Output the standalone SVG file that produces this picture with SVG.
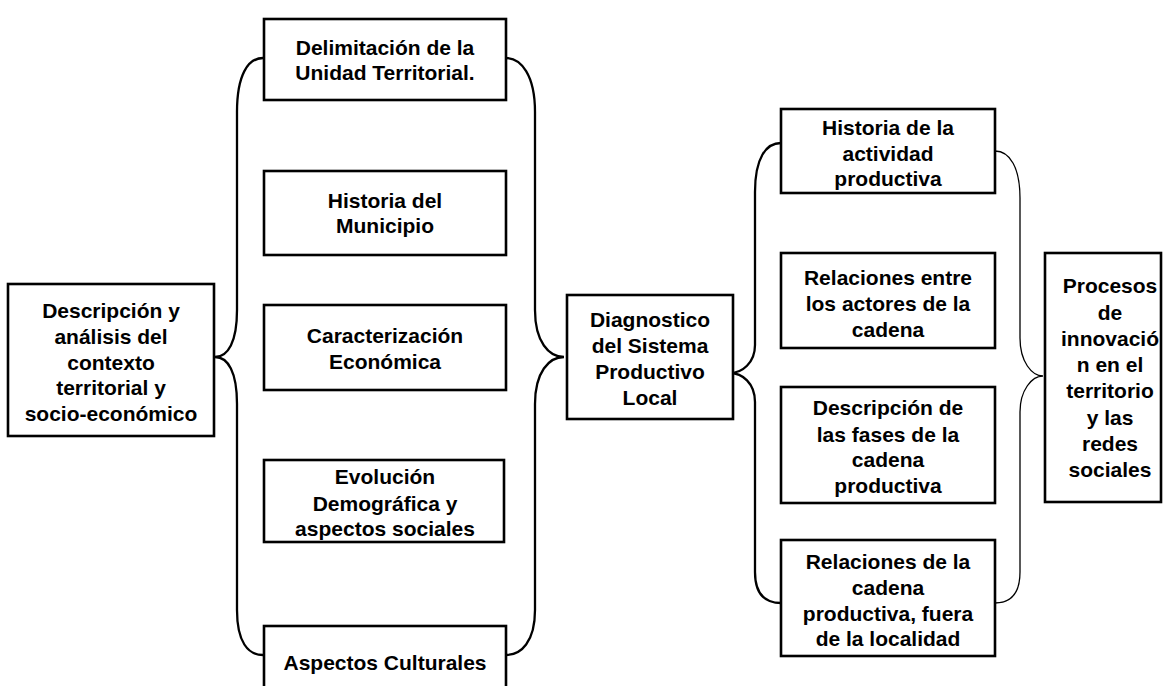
<svg xmlns="http://www.w3.org/2000/svg" width="1163" height="686" viewBox="0 0 1163 686">
<style>
.box{fill:#fff;stroke:#000;stroke-width:2.6}
.t{font-family:"Liberation Sans",Arial,sans-serif;font-weight:bold;font-size:21px;fill:#000;text-anchor:middle}
.br{fill:none;stroke:#000;stroke-width:2.3}
.thin{fill:none;stroke:#000;stroke-width:1.3}
</style>
<rect width="1163" height="686" fill="#fff"/>
<g id="connectors">
<path class="br" d="M263,58 C248,58 237,75 237,112 L237,310 C237,342 228,357 215,357 C228,357 237,372 237,404 L237,610 C237,642 248,655 263,655"/>
<path class="br" d="M506,58 C521,58 535,75 535,112 L535,310 C535,342 549,357 564,357 C549,357 535,372 535,404 L535,610 C535,642 521,655 506,655"/>
<path class="br" d="M781,143 C766,143 755,158 755,192 L755,345 C755,363 742,373 730,373 C742,373 755,383 755,402 L755,572 C755,595 766,603 781,603"/>
<path class="thin" d="M995,151 C1010,151 1020,168 1020,198 L1020,338 C1020,362 1032,376 1043,376 C1032,376 1020,390 1020,412 L1020,572 C1020,595 1010,603 995,603"/>
</g>
<g id="n_descripcion">
<rect class="box" x="8" y="284" width="206" height="152"/>
<text class="t" x="111" y="318">Descripción y</text>
<text class="t" x="111" y="344">análisis del</text>
<text class="t" x="111" y="370">contexto</text>
<text class="t" x="111" y="395">territorial  y</text>
<text class="t" x="111" y="421">socio-económico</text>
</g>
<g id="n_delimitacion">
<rect class="box" x="264" y="19" width="242" height="81"/>
<text class="t" x="385" y="55">Delimitación de la</text>
<text class="t" x="385" y="80">Unidad Territorial.</text>
</g>
<g id="n_historia_mun">
<rect class="box" x="264" y="171" width="242" height="84"/>
<text class="t" x="385" y="208">Historia del</text>
<text class="t" x="385" y="233">Municipio</text>
</g>
<g id="n_caracterizacion">
<rect class="box" x="264" y="305" width="242" height="85"/>
<text class="t" x="385" y="343">Caracterización</text>
<text class="t" x="385" y="369">Económica</text>
</g>
<g id="n_evolucion">
<rect class="box" x="264" y="460" width="240" height="82"/>
<text class="t" x="385" y="484">Evolución</text>
<text class="t" x="385" y="511">Demográfica y</text>
<text class="t" x="385" y="536">aspectos sociales</text>
</g>
<g id="n_aspectos">
<rect class="box" x="264" y="626" width="242" height="70"/>
<text class="t" x="385" y="670">Aspectos Culturales</text>
</g>
<g id="n_diagnostico">
<rect class="box" x="567" y="295" width="166" height="124"/>
<text class="t" x="650" y="327">Diagnostico</text>
<text class="t" x="650" y="353">del Sistema</text>
<text class="t" x="650" y="379">Productivo</text>
<text class="t" x="650" y="405">Local</text>
</g>
<g id="n_historia_act">
<rect class="box" x="781" y="109" width="214" height="84"/>
<text class="t" x="888" y="135">Historia de la</text>
<text class="t" x="888" y="161">actividad</text>
<text class="t" x="888" y="186">productiva</text>
</g>
<g id="n_relaciones_entre">
<rect class="box" x="781" y="253" width="214" height="95"/>
<text class="t" x="888" y="285">Relaciones entre</text>
<text class="t" x="888" y="311">los actores de la</text>
<text class="t" x="888" y="337">cadena</text>
</g>
<g id="n_descripcion_fases">
<rect class="box" x="781" y="387" width="214" height="116"/>
<text class="t" x="888" y="415">Descripción de</text>
<text class="t" x="888" y="442">las fases de la</text>
<text class="t" x="888" y="467">cadena</text>
<text class="t" x="888" y="493">productiva</text>
</g>
<g id="n_relaciones_cadena">
<rect class="box" x="781" y="540" width="214" height="116"/>
<text class="t" x="888" y="569">Relaciones de la</text>
<text class="t" x="888" y="595">cadena</text>
<text class="t" x="888" y="621">productiva, fuera</text>
<text class="t" x="888" y="646">de la  localidad</text>
</g>
<g id="n_procesos">
<rect class="box" x="1045" y="253" width="116" height="249"/>
<text class="t" x="1110" y="293">Procesos</text>
<text class="t" x="1110" y="320">de</text>
<text class="t" x="1110" y="346">innovació</text>
<text class="t" x="1110" y="372">n en el</text>
<text class="t" x="1110" y="398">territorio</text>
<text class="t" x="1110" y="425">y las</text>
<text class="t" x="1110" y="451">redes</text>
<text class="t" x="1110" y="477">sociales</text>
</g>
</svg>
